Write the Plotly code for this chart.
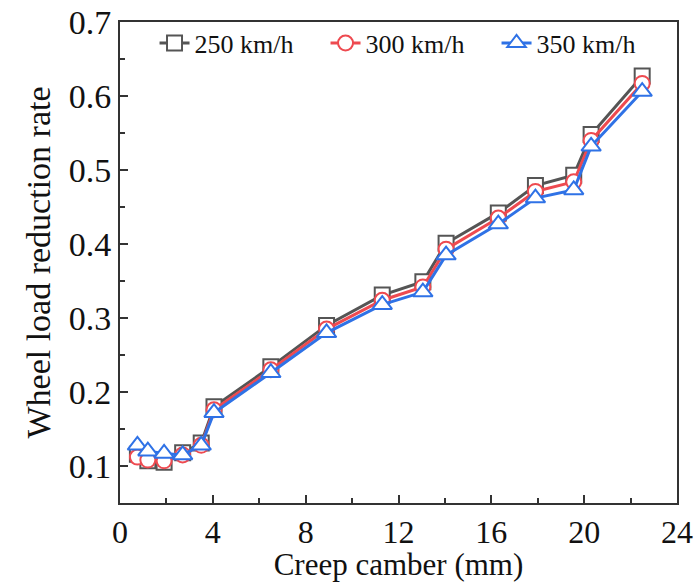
import plotly.graph_objects as go

x = [0.75, 1.2, 1.9, 2.7, 3.5, 4.05, 6.5, 8.9, 11.3, 13.05, 14.05, 16.3, 17.9, 19.55, 20.3, 22.5]
y250 = [0.116, 0.107, 0.105, 0.118, 0.131, 0.180, 0.234, 0.290, 0.331, 0.349, 0.401, 0.442, 0.479, 0.493, 0.548, 0.627]
y300 = [0.112, 0.108, 0.107, 0.115, 0.128, 0.176, 0.230, 0.285, 0.324, 0.342, 0.393, 0.435, 0.471, 0.484, 0.540, 0.617]
y350 = [0.128, 0.120, 0.117, 0.115, 0.128, 0.172, 0.226, 0.280, 0.318, 0.335, 0.385, 0.427, 0.462, 0.473, 0.532, 0.606]
names = ["250 km/h", "300 km/h", "350 km/h"]
colors = ["#555555", "#ee4a50", "#2f72e6"]
symbols = ["square", "circle", "triangle-up"]

fig = go.Figure()
for ys, n, c, s in zip([y250, y300, y350], names, colors, symbols):
    fig.add_trace(go.Scatter(
        x=x, y=ys, name=n, mode="lines+markers",
        line=dict(color=c, width=3),
        marker=dict(symbol=s, size=15 if s != "triangle-up" else 17, color="white",
                    line=dict(color=c, width=2)),
    ))

font = "Liberation Serif"
fig.update_layout(
    width=694, height=582,
    margin=dict(l=120, r=17, t=22, b=79),
    plot_bgcolor="white", paper_bgcolor="white",
    font=dict(family=font, size=32, color="#111"),
    showlegend=True,
    legend=dict(orientation="h", x=0.062, y=1.005, xanchor="left", yanchor="top",
                bgcolor="rgba(255,255,255,0)", font=dict(size=26, family=font),
                itemwidth=30, tracegroupgap=0, entrywidth=126),
)
fig.update_xaxes(
    range=[0, 24], tickvals=[0, 4, 8, 12, 16, 20, 24], automargin=False,
    ticks="inside", ticklen=8, tickwidth=1.5, tickcolor="#333",
    minor=dict(dtick=2, tick0=0, ticks="inside", ticklen=5, tickcolor="#333", tickwidth=1.5),
    showline=True, linecolor="#333", linewidth=2, mirror=True,
    showgrid=False, zeroline=False,
    title=dict(text="Creep camber (mm)", font=dict(size=31, family=font), standoff=2),
    tickfont=dict(size=32, family=font),
)
fig.update_yaxes(
    range=[0.05, 0.7], tickvals=[0.1, 0.2, 0.3, 0.4, 0.5, 0.6, 0.7], automargin=False,
    ticktext=["0.1", "0.2", "0.3", "0.4", "0.5", "0.6", "0.7"],
    ticks="inside", ticklen=8, tickwidth=1.5, tickcolor="#333",
    minor=dict(dtick=0.05, tick0=0.05, ticks="inside", ticklen=5, tickcolor="#333", tickwidth=1.5),
    showline=True, linecolor="#333", linewidth=2, mirror=True,
    showgrid=False, zeroline=False,
    title=dict(text="Wheel load reduction rate", font=dict(size=34, family=font), standoff=8),
    tickfont=dict(size=34, family=font),
)
fig.write_html("out.html")
